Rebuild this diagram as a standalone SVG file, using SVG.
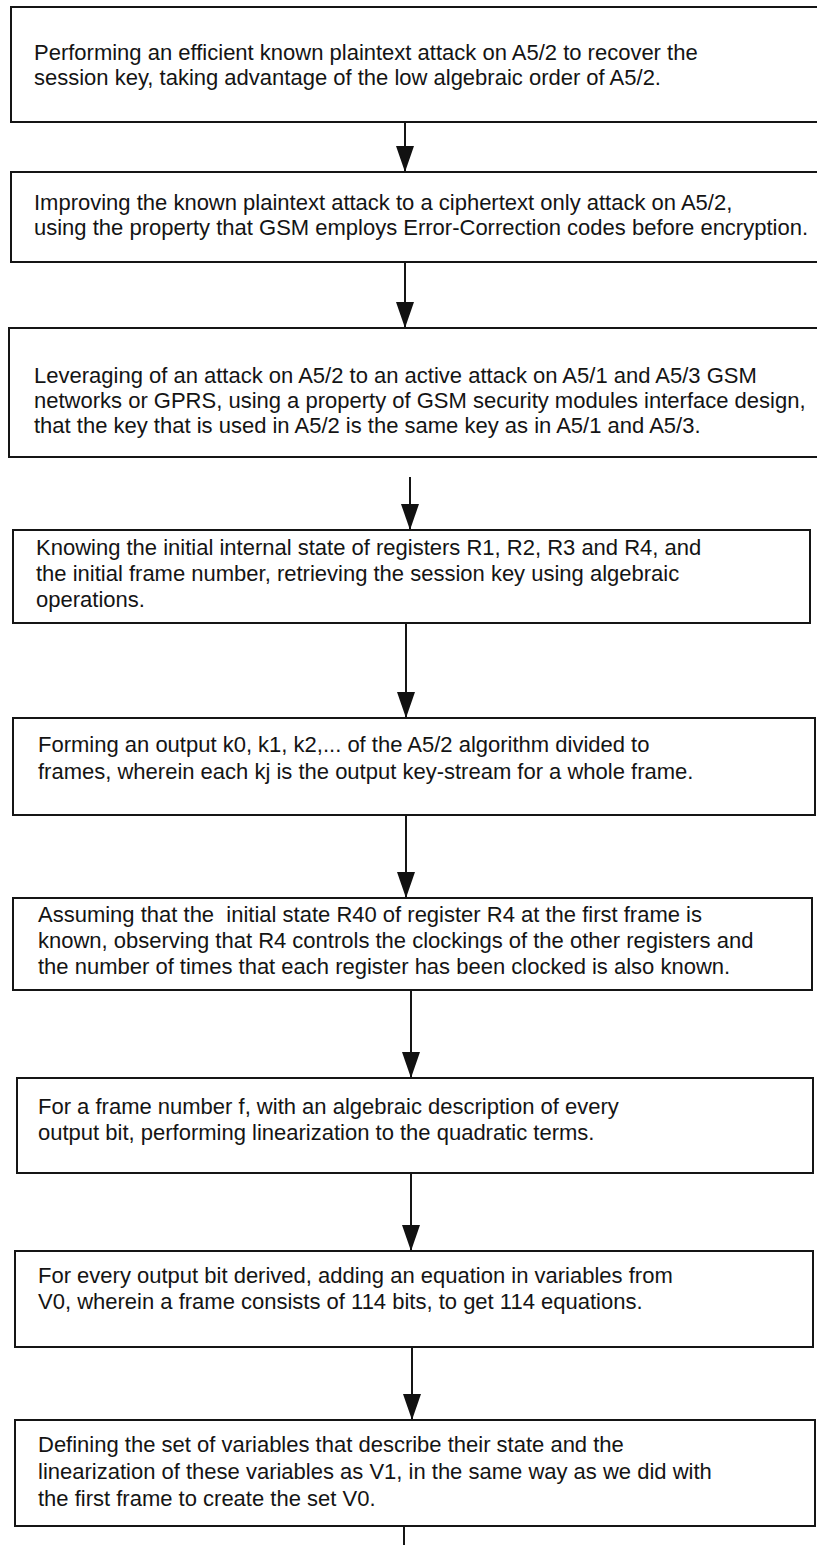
<svg xmlns="http://www.w3.org/2000/svg" width="817" height="1545" viewBox="0 0 817 1545">
<defs>
<style>
.box{fill:#fff;stroke:#151515;stroke-width:2}
.t{font-family:"Liberation Sans",Arial,Helvetica,sans-serif;font-size:22px;fill:#141414}
.c{stroke:#151515;stroke-width:2;fill:none}
</style>
<marker id="ah" viewBox="0 0 26 18" refX="26" refY="9" markerWidth="26" markerHeight="18" markerUnits="userSpaceOnUse" orient="auto">
<path d="M0,0 L26,9 L0,18 z" fill="#111"/>
</marker>
</defs>
<rect width="817" height="1545" fill="#fff"/>
<g id="connectors">
<line class="c" x1="405" y1="122" x2="405" y2="172" marker-end="url(#ah)"/>
<line class="c" x1="405" y1="262" x2="405" y2="328" marker-end="url(#ah)"/>
<line class="c" x1="410" y1="477" x2="410" y2="530" marker-end="url(#ah)"/>
<line class="c" x1="406" y1="623" x2="406" y2="718" marker-end="url(#ah)"/>
<line class="c" x1="406" y1="815" x2="406" y2="898" marker-end="url(#ah)"/>
<line class="c" x1="411" y1="990" x2="411" y2="1078" marker-end="url(#ah)"/>
<line class="c" x1="411" y1="1173" x2="411" y2="1251" marker-end="url(#ah)"/>
<line class="c" x1="412" y1="1347" x2="412" y2="1420" marker-end="url(#ah)"/>
<line class="c" x1="404" y1="1526" x2="404" y2="1545"/>
</g>
<g id="n1">
<rect class="box" x="11" y="7" width="815" height="115"/>
<text class="t" x="34" y="60">Performing an efficient known plaintext attack on A5/2 to recover the</text>
<text class="t" x="34" y="85">session key, taking advantage of the low algebraic order of A5/2.</text>
</g>
<g id="n2">
<rect class="box" x="11" y="172" width="815" height="90"/>
<text class="t" x="34" y="210">Improving the known plaintext attack to a ciphertext only attack on A5/2,</text>
<text class="t" x="34" y="235">using the property that GSM employs Error-Correction codes before encryption.</text>
</g>
<g id="n3">
<rect class="box" x="9" y="328" width="817" height="129"/>
<text class="t" x="34" y="383">Leveraging of an attack on A5/2 to an active attack on A5/1 and A5/3 GSM</text>
<text class="t" x="34" y="408">networks or GPRS, using a property of GSM security modules interface design,</text>
<text class="t" x="34" y="433">that the key that is used in A5/2 is the same key as in A5/1 and A5/3.</text>
</g>
<g id="n4">
<rect class="box" x="13" y="530" width="797" height="93"/>
<text class="t" x="36" y="555">Knowing the initial internal state of registers R1, R2, R3 and R4, and</text>
<text class="t" x="36" y="581">the initial frame number, retrieving the session key using algebraic</text>
<text class="t" x="36" y="607">operations.</text>
</g>
<g id="n5">
<rect class="box" x="13" y="718" width="802" height="97"/>
<text class="t" x="38" y="752">Forming an output k0, k1, k2,... of the A5/2 algorithm divided to</text>
<text class="t" x="38" y="779">frames, wherein each kj is the output key-stream for a whole frame.</text>
</g>
<g id="n6">
<rect class="box" x="13" y="898" width="799" height="92"/>
<text class="t" x="38" y="922" style="white-space:pre">Assuming that the  initial state R40 of register R4 at the first frame is</text>
<text class="t" x="38" y="948">known, observing that R4 controls the clockings of the other registers and</text>
<text class="t" x="38" y="974">the number of times that each register has been clocked is also known.</text>
</g>
<g id="n7">
<rect class="box" x="17" y="1078" width="796" height="95"/>
<text class="t" x="38" y="1114">For a frame number f, with an algebraic description of every</text>
<text class="t" x="38" y="1140">output bit, performing linearization to the quadratic terms.</text>
</g>
<g id="n8">
<rect class="box" x="15" y="1251" width="798" height="96"/>
<text class="t" x="38" y="1283">For every output bit derived, adding an equation in variables from</text>
<text class="t" x="38" y="1309">V0, wherein a frame consists of 114 bits, to get 114 equations.</text>
</g>
<g id="n9">
<rect class="box" x="15" y="1420" width="800" height="106"/>
<text class="t" x="38" y="1452">Defining the set of variables that describe their state and the</text>
<text class="t" x="38" y="1479">linearization of these variables as V1, in the same way as we did with</text>
<text class="t" x="38" y="1506">the first frame to create the set V0.</text>
</g>
</svg>
